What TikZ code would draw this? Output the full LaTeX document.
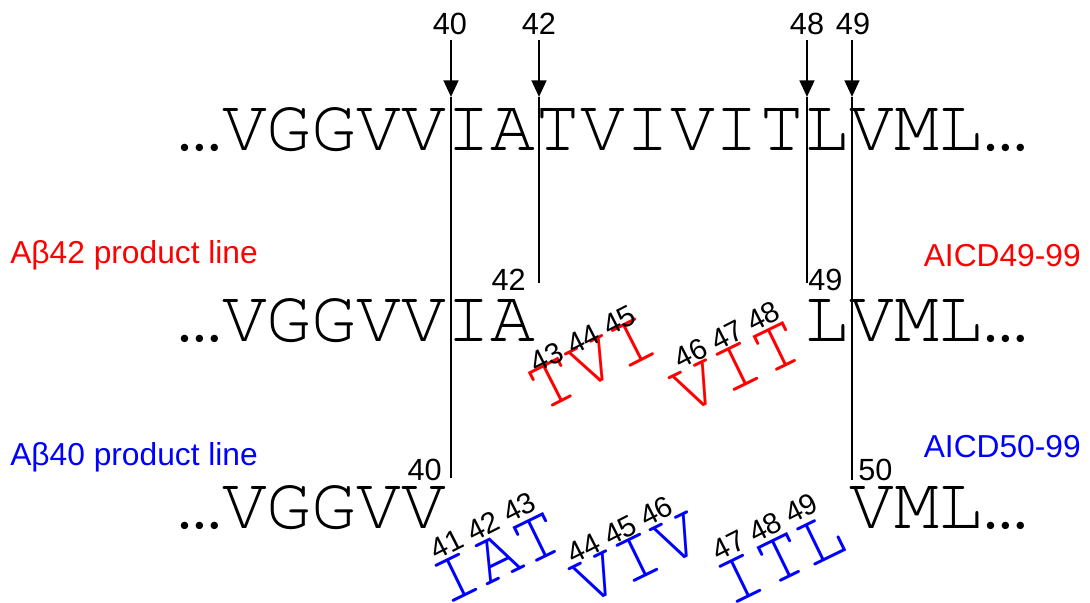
\documentclass[tikz,border=0pt]{standalone}
\usepackage{fontspec}
\setmainfont{Liberation Sans}
\newfontfamily\seqfont{TeX Gyre Cursor}
\usetikzlibrary{arrows.meta}
\definecolor{prodred}{RGB}{255,0,0}
\definecolor{prodblue}{RGB}{0,0,255}

\begin{document}
\begin{tikzpicture}[x=0.75pt,y=-0.75pt,
  seq/.style={font=\seqfont\fontsize{56}{60}\selectfont, inner sep=0pt, anchor=base west},
  frag/.style={font=\seqfont\fontsize{56}{60}\selectfont, inner sep=0pt, anchor=center},
  num/.style={font=\fontsize{23}{26}\selectfont, inner sep=0pt},
  snum/.style={font=\fontsize{22}{25}\selectfont, inner sep=0pt, anchor=center, rotate=27},
  lbl/.style={font=\fontsize{23.8}{27}\selectfont, inner sep=0pt},
  cut/.style={line width=1pt},
  cleave/.style={line width=2pt, -{Triangle[length=12.5pt,width=11pt]}}]
\useasboundingbox (0,0) rectangle (1090,603);

% sequence rows
\node[seq] (row1) at (177,150) {…VGGVVIATVIVITLVML…};
\node[seq] (row2a) at (177,341) {…VGGVVIA};
\node[seq] (row2b) at (804.2,341) {LVML…};
\node[seq] (row3a) at (177,528) {…VGGVV};
\node[seq] (row3b) at (849,528) {VML…};

% cleavage sites: arrow tails, tips and cut-line ends
\coordinate (t40) at (451,40);  \coordinate (h40) at (451,97);  \coordinate (e40) at (451,478);
\coordinate (t42) at (539,40);  \coordinate (h42) at (539,97);  \coordinate (e42) at (539,283);
\coordinate (t48) at (807,40);  \coordinate (h48) at (807,97);  \coordinate (e48) at (807,283);
\coordinate (t49) at (852,40);  \coordinate (h49) at (852,97);  \coordinate (e49) at (852,480);

\draw[cleave] (t40) -- (h40);
\draw[cleave] (t42) -- (h42);
\draw[cleave] (t48) -- (h48);
\draw[cleave] (t49) -- (h49);
\draw[cut] (h40) -- (e40);
\draw[cut] (h42) -- (e42);
\draw[cut] (h48) -- (e48);
\draw[cut] (h49) -- (e49);

% site numbers
\node[num, anchor=base] (n40) at (450,35) {40};
\node[num, anchor=base] (n42) at (539,35) {42};
\node[num, anchor=base] (n48) at (807,35) {48};
\node[num, anchor=base] (n49) at (853,35) {49};
\node[num, anchor=base east] (m42) at (526,290) {42};
\node[num, anchor=base west] (m49) at (808,290) {49};
\node[num, anchor=base east] (b40) at (442,480) {40};
\node[num, anchor=base west] (b50) at (858,480) {50};

% product line labels
\node[lbl, anchor=base west, text=prodred] (l42) at (10,263) {Aβ42 product line};
\node[lbl, anchor=base east, text=prodred] (r49) at (1081,266) {AICD49-99};
\node[lbl, anchor=base west, text=prodblue] (l40) at (10,465) {Aβ40 product line};
\node[lbl, anchor=base east, text=prodblue] (r50) at (1081,457) {AICD50-99};

% released tripeptides, Abeta42 line
\node[frag, rotate=27, text=prodred] (tvi) at (593,363) {TVI};
\node[frag, rotate=26, text=prodred] (vit) at (737,367) {VIT};
\node[snum] (s43) at (583,339) {43 44 45};
\node[snum] (s46) at (727,335) {46 47 48};

% released tripeptides, Abeta40 line
\node[frag, rotate=26, text=prodblue] (iat) at (497,558) {IAT};
\node[frag, rotate=26, text=prodblue] (viv) at (637,558) {VIV};
\node[frag, rotate=26, text=prodblue] (itl) at (781,559) {ITL};
\node[snum] (s41) at (483,526) {41 42 43};
\node[snum] (s44) at (620,530) {44 45 46};
\node[snum] (s47) at (765,527) {47 48 49};
\end{tikzpicture}
\end{document}
